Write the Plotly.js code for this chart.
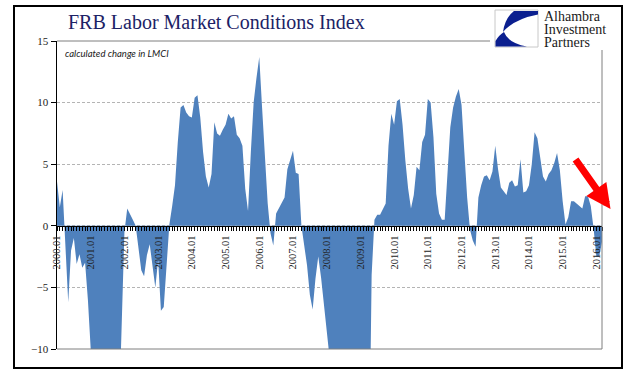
<!DOCTYPE html>
<html>
<head>
<meta charset="utf-8">
<script src="https://cdn.plot.ly/plotly-3.0.1.min.js"></script>
<style>
html,body{margin:0;padding:0;background:#fff;}
#chart{width:641px;height:375px;}
</style>
</head>
<body>
<div id="chart"></div>
<script>
// Monthly values (calculated change in LMCI), Jan 2000 .. Mar 2016
const startYear = 2000;
const v2000 = [3.6, 1.5, 2.9, -1.9, -6.2, -2.0, -1.0, -3.1, -2.3, -3.4, -3.0, -6.0];
const v2001 = [-12, -14, -15, -17, -18, -19, -20, -21, -20, -19, -16, -8];
const v2002 = [-0.5, 1.4, 1.0, 0.5, 0.0, -2.0, -3.6, -4.1, -2.4, -1.5, -3.5, -5.0];
const v2003 = [-2.8, -6.9, -6.6, -3.3, 0.1, 1.6, 3.3, 6.8, 9.6, 9.8, 9.2, 8.9];
const v2004 = [8.8, 10.4, 10.6, 8.8, 6.0, 4.0, 3.1, 4.2, 8.4, 7.5, 7.3, 7.8];
const v2005 = [8.2, 9.1, 8.7, 8.9, 7.4, 7.1, 6.5, 3.0, 1.2, 6.0, 10.0, 12.0];
const v2006 = [13.7, 9.6, 6.0, 1.8, -0.6, -1.6, 1.0, 1.4, 1.8, 2.3, 4.6, 5.4];
const v2007 = [6.1, 4.3, 4.2, 0.0, -1.5, -3.2, -5.6, -6.8, -4.3, -2.5, -4.2, -6.5];
const v2008 = [-8.8, -11, -13, -16, -19, -22, -25, -27, -29, -30, -30, -29];
const v2009 = [-28, -27, -26, -22, -4, 0.5, 0.9, 0.9, 1.3, 1.8, 6.5, 9.1];
const v2010 = [8.2, 10.1, 10.3, 8.2, 5.3, 3.0, 1.4, 2.5, 4.8, 4.5, 6.8, 7.4];
const v2011 = [10.3, 10.0, 7.2, 2.6, 1.0, 0.5, 0.5, 4.5, 8.0, 9.6, 10.5, 11.1];
const v2012 = [9.8, 6.0, 2.3, -0.3, -1.2, -1.7, 2.3, 3.3, 4.0, 4.1, 3.7, 4.4];
const v2013 = [6.5, 4.6, 3.1, 2.8, 2.5, 3.5, 3.7, 3.2, 3.3, 5.4, 2.7, 2.8];
const v2014 = [3.3, 5.0, 7.6, 7.1, 5.6, 4.0, 3.6, 4.2, 4.5, 5.1, 5.9, 4.5];
const v2015 = [2.0, 0.1, 0.7, 2.0, 2.0, 1.8, 1.6, 1.4, 2.4, 2.4, 1.6, -0.2];
const v2016 = [-2.5, -2.5, -1.3];

const tickLabels = ['2000.01','2001.01','2002.01','2003.01','2004.01','2005.01','2006.01','2007.01',
                    '2008.01','2009.01','2010.01','2011.01','2012.01','2013.01','2014.01','2015.01','2016.01'];

const yearly = [v2000,v2001,v2002,v2003,v2004,v2005,v2006,v2007,v2008,v2009,v2010,v2011,v2012,v2013,v2014,v2015,v2016];
const values = [].concat(...yearly);
const monthIndex = values.map((_, i) => i);
const tickPos = tickLabels.map((_, k) => k * 12);

// layout geometry helpers (pixel -> paper)
const W = 641, H = 375, ML = 57, MR = 39, MT = 41, MB = 26;
const PW = W - ML - MR, PH = H - MT - MB;
const px = x => (x - ML) / PW;
const py = y => (H - MB - y) / PH;
const P = (x, y) => px(x).toFixed(5) + ',' + py(y).toFixed(5);

const trace = {
  x: monthIndex, y: values, type: 'scatter', mode: 'lines',
  fill: 'tozeroy', fillcolor: '#4f81bd',
  line: {width: 0, color: '#4f81bd'}, hoverinfo: 'skip'
};

const serif = 'Liberation Serif, Times New Roman, serif';

const shapes = [
  // outer frame
  {type:'rect', xref:'paper', yref:'paper', x0:px(14), x1:px(622), y0:py(368), y1:py(6),
   line:{color:'#000', width:2}},
  // plot area borders (gray)
  {type:'line', xref:'paper', yref:'paper', x0:px(57), x1:px(490), y0:1, y1:1, line:{color:'#7f7f7f', width:1}},
  {type:'line', xref:'paper', yref:'paper', x0:1, x1:1, y0:0, y1:py(50), line:{color:'#7f7f7f', width:1}},
  {type:'line', xref:'paper', yref:'paper', x0:0, x1:1, y0:0, y1:0, line:{color:'#7f7f7f', width:1}},
  // logo box
  {type:'rect', xref:'paper', yref:'paper', x0:px(495), x1:px(538), y0:py(47), y1:py(10),
   line:{color:'#c8c8c8', width:1}, fillcolor:'#ffffff'},
  // logo top blade
  {type:'path', xref:'paper', yref:'paper', line:{width:0}, fillcolor:'#0b1f8f',
   path:'M'+P(514,11)+' L'+P(538,11)+' L'+P(538,14.5)+' Q'+P(514,19)+' '+P(503,32)+' Q'+P(505,18)+' '+P(514,11)+' Z'},
  // logo bottom sweep
  {type:'path', xref:'paper', yref:'paper', line:{width:0}, fillcolor:'#0b1f8f',
   path:'M'+P(495.5,46.5)+' L'+P(495.5,41)+' Q'+P(499,35)+' '+P(504,32)+' Q'+P(508,43)+' '+P(527,46.5)+' Z'}
];

const annotations = [
  {text:'FRB Labor Market Conditions Index', xref:'paper', yref:'paper', x:px(66), y:py(22),
   xanchor:'left', yanchor:'middle', showarrow:false,
   font:{family:serif, size:20, color:'#1c2266'}},
  {text:'<i>calculated change in LMCI</i>', xref:'paper', yref:'paper', x:px(63), y:py(53),
   xanchor:'left', yanchor:'middle', showarrow:false,
   font:{family:'Lato, Open Sans, sans-serif', size:9.5, color:'#1a1a1a'}},
  {text:'Alhambra', xref:'paper', yref:'paper', x:px(542), y:py(16.5), xanchor:'left', yanchor:'middle',
   showarrow:false, font:{family:serif, size:14, color:'#1a1a1a'}},
  {text:'Investment', xref:'paper', yref:'paper', x:px(542), y:py(29.5), xanchor:'left', yanchor:'middle',
   showarrow:false, font:{family:serif, size:14, color:'#1a1a1a'}},
  {text:'Partners', xref:'paper', yref:'paper', x:px(542), y:py(42.5), xanchor:'left', yanchor:'middle',
   showarrow:false, font:{family:serif, size:14, color:'#1a1a1a'}},
  {text:'', xref:'paper', yref:'paper', x:px(610.5), y:py(209), ax:-36, ay:-51,
   showarrow:true, arrowhead:2, arrowwidth:7, arrowsize:0.7, arrowcolor:'#ff0000', standoff:0}
];

const layout = {
  width: W, height: H,
  margin: {l:ML, r:MR, t:MT, b:MB, pad:0},
  paper_bgcolor:'#ffffff', plot_bgcolor:'#ffffff',
  showlegend:false,
  xaxis: {
    range:[0, values.length - 1], anchor:'free', position:0.4,
    tickmode:'array', tickvals:tickPos, ticktext:tickLabels, tickangle:-90,
    showline:true, linecolor:'#000', linewidth:1.5,
    ticks:'outside', ticklen:4, tickcolor:'#000', tickwidth:1,
    showgrid:false, zeroline:false,
    tickfont:{family:serif, size:10.5, color:'#222'},
    minor:{tickmode:'linear', tick0:0, dtick:1, ticks:'outside', ticklen:4, tickcolor:'#000', tickwidth:1, showgrid:false},
    fixedrange:true
  },
  yaxis: {
    range:[-10, 15], tickmode:'linear', tick0:0, dtick:5,
    showline:true, linecolor:'#000', linewidth:1.5,
    ticks:'outside', ticklen:5, tickcolor:'#000',
    showgrid:true, gridcolor:'#b4b4b4', griddash:'3px,2px', gridwidth:1,
    zeroline:false,
    tickfont:{family:serif, size:11, color:'#222'},
    fixedrange:true
  },
  shapes: shapes,
  annotations: annotations
};

Plotly.newPlot('chart', [trace], layout, {displayModeBar:false, staticPlot:true});
</script>
</body>
</html>
